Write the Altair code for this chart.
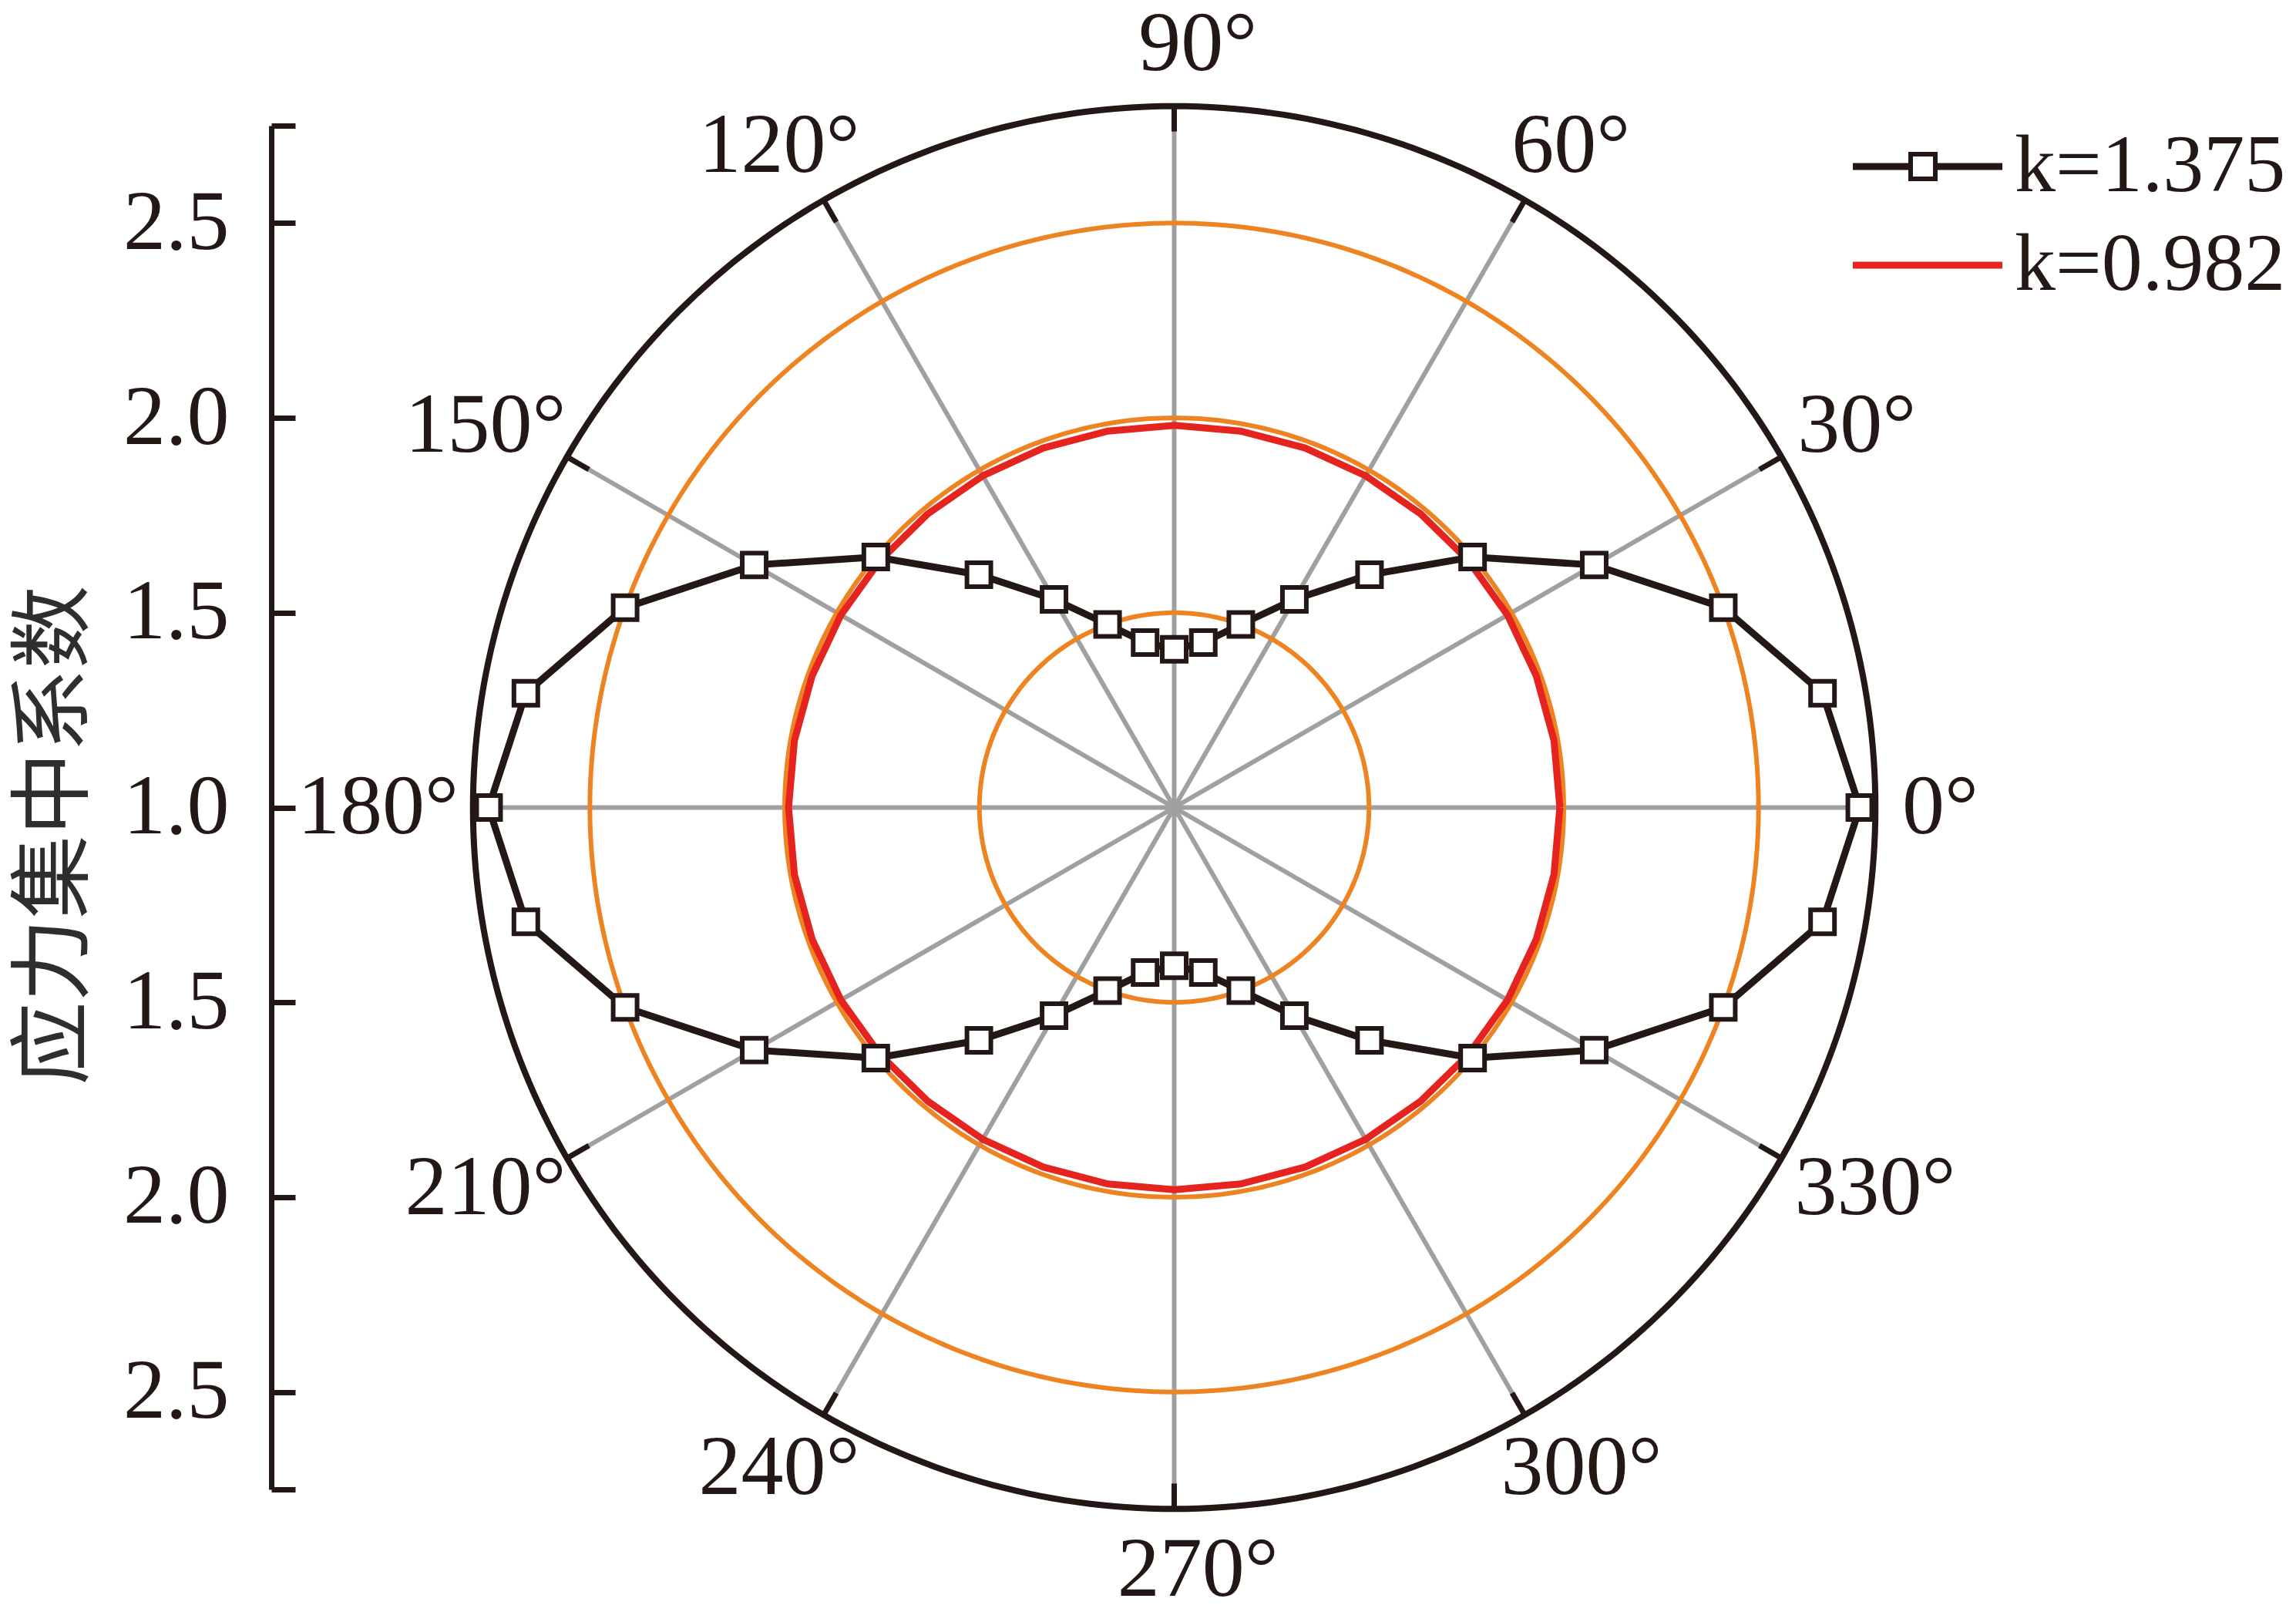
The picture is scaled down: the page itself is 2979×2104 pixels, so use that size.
import altair as alt
import pandas as pd
import numpy as np

# ---------------- data ----------------
angles = list(range(0, 360, 10))
k1375 = [2.76, 2.69, 2.50, 2.245, 2.00, 1.78, 1.617, 1.50, 1.43, 1.406,
         1.43, 1.50, 1.617, 1.78, 2.00, 2.245, 2.50, 2.69,
         2.76, 2.69, 2.50, 2.245, 2.00, 1.78, 1.617, 1.50, 1.43, 1.406,
         1.43, 1.50, 1.617, 1.78, 2.00, 2.245, 2.50, 2.69]
k0982 = [1.990, 1.990, 1.989, 1.988, 1.986, 1.984, 1.983, 1.982, 1.981, 1.981,
         1.981, 1.982, 1.983, 1.984, 1.986, 1.988, 1.989, 1.990,
         1.990, 1.990, 1.989, 1.988, 1.986, 1.984, 1.983, 1.982, 1.981, 1.981,
         1.981, 1.982, 1.983, 1.984, 1.986, 1.988, 1.989, 1.990]
series_names = ["k=1.375", "k=0.982"]
series_colors = ["#231815", "#E52420"]

center_value = 1.0            # radial value at the pole
ring_values = [1.5, 2.0, 2.5]  # orange reference circles
outer_value = 2.8              # black outer circle
spoke_angles = [0, 30, 60, 90, 120, 150, 180, 210, 240, 270, 300, 330]
angle_labels = ["0°", "30°", "60°", "90°", "120°", "150°",
                "180°", "210°", "240°", "270°", "300°", "330°"]
axis_tick_values = [-1.75, -1.5, -1.0, -0.5, 0.0, 0.5, 1.0, 1.5, 1.75]
axis_title = "应力集中系数"

# ---------------- tables ----------------
rows = []
for name, vals in [(series_names[1], k0982), (series_names[0], k1375)]:
    for a, v in zip(angles, vals):
        rows.append({"series": name, "angle": a, "value": v})
    rows.append({"series": name, "angle": 360, "value": vals[0]})  # close loop
df_series = pd.DataFrame(rows)

circ_rows = []
for rv in ring_values + [outer_value]:
    kind = "outer" if rv == outer_value else "ring"
    for a in np.arange(0, 361, 1):
        circ_rows.append({"kind": kind, "rv": rv, "angle": float(a)})
df_circ = pd.DataFrame(circ_rows)

df_spokes = pd.DataFrame({"angle": spoke_angles, "label": angle_labels})

# ---------------- scales ----------------
R = 1.75
xscale = alt.Scale(domain=[-R, R], nice=False, zero=False)
yscale = alt.Scale(domain=[-R, R], nice=False, zero=False)
INK = "#231815"
FONT = "Liberation Serif"
FS = 110
EM = FS / 505.5  # one em in data units

yaxis = alt.Axis(
    orient="left", offset=287, values=axis_tick_values,
    labelExpr="abs(datum.value) > 1.7 ? '' : format(abs(datum.value) + %g, '.1f')" % center_value,
    domainColor=INK, domainWidth=7, tickColor=INK, tickWidth=7,
    tickSize={"expr": "-31"}, labelPadding=86,
    labelFont=FONT, labelFontSize=FS, labelColor=INK,
    labelAlign="right", labelBaseline="middle", labelOverlap=False, labelFlush=False,
    grid=False, title=axis_title, titleFont="Noto Sans CJK SC", titleFontSize=108,
    titleFontWeight="normal", titleColor="#2e2e2e", titleAngle=270,
    titleX=-280, titleY=920, titleAlign="center", titleBaseline="middle",
)

def X(field):
    return alt.X(field, type="quantitative", scale=xscale, axis=None)

def Y(field):
    return alt.Y(field, type="quantitative", scale=yscale, axis=yaxis)

def polar(r_expr):
    return dict(
        px="(%s) * cos(datum.angle * PI / 180)" % r_expr,
        py="(%s) * sin(datum.angle * PI / 180)" % r_expr,
    )

outer_r = outer_value - center_value

spokes = alt.Chart(df_spokes).transform_calculate(
    x0="0", y0="0", **polar(str(outer_r))
).mark_rule(color="#A0A0A0", strokeWidth=6).encode(
    x=X("x0"), y=Y("y0"), x2="px:Q", y2="py:Q"
)

spoke_ticks = alt.Chart(df_spokes).transform_calculate(
    tx="%f * cos(datum.angle * PI / 180)" % (outer_r - 0.065),
    ty="%f * sin(datum.angle * PI / 180)" % (outer_r - 0.065),
    **polar(str(outer_r))
).mark_rule(color=INK, strokeWidth=7).encode(
    x=X("tx"), y=Y("ty"), x2="px:Q", y2="py:Q"
)

rings = alt.Chart(df_circ).transform_filter("datum.kind == 'ring'").transform_calculate(
    **polar("datum.rv - %g" % center_value)
).mark_line(color="#EE8421", strokeWidth=6).encode(
    x=X("px"), y=Y("py"), detail="rv:N", order="angle:Q"
)

outer = alt.Chart(df_circ).transform_filter("datum.kind == 'outer'").transform_calculate(
    **polar("datum.rv - %g" % center_value)
).mark_line(color=INK, strokeWidth=8).encode(
    x=X("px"), y=Y("py"), order="angle:Q"
)

LEG_X = 1809
LEG_Y = 0
path_ln = "M-9.7,0L9.7,0"

lines = alt.Chart(df_series).transform_calculate(
    **polar("datum.value - %g" % center_value)
).mark_line(strokeWidth=9).encode(
    x=X("px"), y=Y("py"), order="angle:Q",
    color=alt.Color(
        "series:N",
        scale=alt.Scale(domain=series_names, range=series_colors),
        legend=alt.Legend(
            title=None, orient="none", legendX=LEG_X, legendY=LEG_Y,
            labelFont=FONT, labelFontSize=106, labelColor=INK, labelLimit=2000,
            symbolType=path_ln, symbolSize=400, symbolStrokeWidth=9,
            labelOffset=60, rowPadding=22, zindex=1,
        ),
    ),
)

legB = alt.Legend(
    title=None, orient="none", legendX=LEG_X - 6, legendY=LEG_Y,
    labelFont=FONT, labelFontSize=106, labelExpr="''", labelLimit=2000,
    symbolSize=1024, symbolFillColor="white", symbolStrokeColor=INK,
    symbolStrokeWidth=6, symbolOpacity=1, labelOffset=35, zindex=2,
)

points = alt.Chart(df_series).transform_filter(
    "datum.series == '%s' && datum.angle < 360" % series_names[0]
).transform_calculate(
    **polar("datum.value - %g" % center_value)
).mark_point(filled=True, fill="white", strokeWidth=6, size=960, opacity=1).encode(
    x=X("px"), y=Y("py"),
    shape=alt.Shape("series:N",
                    scale=alt.Scale(domain=[series_names[0]], range=["square"]),
                    legend=legB),
    stroke=alt.Stroke("series:N",
                      scale=alt.Scale(domain=[series_names[0]], range=[INK]),
                      legend=legB),
)

# angle labels: box placed just outside a circle of radius D (data units)
D = 1.853
HH = 0.105
label_pos = dict(
    hw="((length(datum.label) - 1) * 0.5 + 0.4) / 2 * %f" % EM,
    sn="sin(datum.angle * PI / 180)",
    lx="cos(datum.angle * PI / 180) * (%f + datum.hw) + (abs(datum.sn) > 0.99 ? 0.045 : 0)" % D,
    ly="datum.sn * (%f + %f)" % (D, HH),
)
labels = alt.Chart(df_spokes).transform_calculate(**label_pos).mark_text(
    font=FONT, fontSize=FS, color=INK, align="center", baseline="middle", dx=8
).encode(
    x=X("lx"), y=Y("ly"), text="label:N"
)

chart = alt.layer(spokes, rings, outer, spoke_ticks, lines, points, labels).properties(
    width=1769, height=1769, background="white",
    autosize=alt.AutoSizeParams(type="none"),
    padding={"left": 631, "top": 155, "right": 560, "bottom": 160},
).configure_view(stroke=None, strokeWidth=0)

chart.save("out.html", embed_options={"renderer": "svg", "actions": False})
